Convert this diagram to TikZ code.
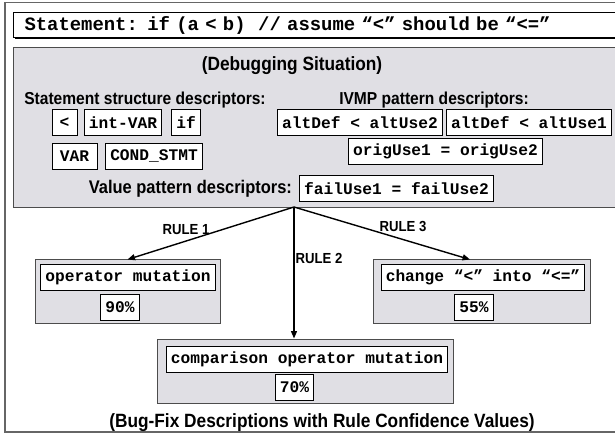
\documentclass[tikz,border=0pt]{standalone}
\usepackage{fontspec}
\setmainfont{Liberation Sans}[FakeStretch=0.9]
\newfontfamily\codefont{Liberation Mono}
\usetikzlibrary{arrows.meta,positioning,shadows}
\definecolor{panelgray}{RGB}{224,223,228}

\begin{document}
\begin{tikzpicture}[x=1pt,y=-1pt,
    desc/.style={draw, fill=white, line width=0.9pt, inner xsep=4.5pt, inner ysep=0pt, minimum height=26pt,
        font=\codefont\bfseries\fontsize{16.2}{18}\selectfont},
    panel/.style={draw=black!70, fill=panelgray, line width=1pt, inner sep=0pt,
        drop shadow={shadow xshift=1pt, shadow yshift=-1pt, fill=black, opacity=1}},
    headtext/.style={font=\bfseries\fontsize{19.2}{22}\selectfont, inner sep=0pt},
    desclabel/.style={font=\bfseries\fontsize{17.3}{20}\selectfont, inner sep=0pt},
    rulelabel/.style={font=\bfseries\fontsize{14.6}{16}\selectfont, inner sep=0pt},
    rulearrow/.style={-{Triangle[length=7.5pt,width=6pt]}, line width=1.4pt}]
    \useasboundingbox (0,0) rectangle (615,435);
    \clip (0,0) rectangle (615,435);

    % --- Rahmen ---
    \draw[black!60, line width=1.2pt] (5,2.5) rectangle (680,432);

    % --- Anweisung ---
    \node[draw, fill=white, line width=1pt, anchor=west, inner xsep=11pt, inner ysep=0pt,
        minimum height=25pt, text width=650pt, align=left,
        drop shadow={shadow xshift=1pt, shadow yshift=-1pt, fill=black, opacity=1},
        font=\codefont\bfseries\fontsize{18.9}{21}\selectfont]
        (stmt) at (13,25.5) {Statement: if (a < b)\ \ // assume “<” should be “<=”};

    % --- Debugging-Situation ---
    \node[panel, anchor=north west, minimum width=680pt, minimum height=160pt] (situation) at (13,47) {};
    \node[headtext] (sitlabel) at (292,66) {(Debugging Situation)};
    \node[desclabel] (ssdlabel) at (145,100) {Statement structure descriptors:};
    \node[desclabel] (ivmplabel) at (434,100) {IVMP pattern descriptors:};

    % Deskriptoren
    \node[desc, minimum width=25pt] (lt) at (64.5,122.5) {<};
    \node[desc] (intvar) at (123,122.5) {int-VAR};
    \node[desc] (kwif) at (186,122.5) {if};
    \node[desc, minimum width=45pt] (var) at (74.5,156) {VAR};
    \node[desc] (cond) at (154,156) {COND\_STMT};
    \node[desc] (alttwo) at (360,122.5) {altDef < altUse2};
    \node[desc] (altone) at (529,122.5) {altDef < altUse1};
    \node[desc] (orig) at (445.5,151) {origUse1 = origUse2};
    \node[desc] (fail) at (396.5,188.5) {failUse1 = failUse2};
    \node[desclabel, left=7pt of fail, font=\bfseries\fontsize{18.3}{20}\selectfont] (vpdlabel) {Value pattern descriptors:};

    % --- Bug-Fix-Beschreibungen ---
    \node[panel, minimum width=185pt, minimum height=63pt] (fixop) at (127.5,291.5) {};
    \node[desc] (opmut) at (128,277.5) {operator mutation};
    \node[desc] (conf90) at (120,307) {90\%};

    \node[panel, minimum width=217pt, minimum height=63pt] (fixchg) at (481.5,291.5) {};
    \node[desc] (chg) at (483,277.5) {change “<” into “<=”};
    \node[desc] (conf55) at (474,307) {55\%};

    \node[panel, minimum width=296pt, minimum height=64pt] (fixcmp) at (305,371) {};
    \node[desc] (cmpmut) at (307,359.5) {comparison operator mutation};
    \node[desc] (conf70) at (294.5,387.5) {70\%};

    % --- Regeln ---
    \coordinate (src) at (294,207);
    \draw[rulearrow] (src) -- (fixop.north);
    \draw[rulearrow] (src) -- (src |- fixcmp.north);
    \draw[rulearrow] (src) -- ([xshift=-11.5pt]fixchg.north);
    \node[rulelabel] (ruleone) at (186,230) {RULE 1};
    \node[rulelabel] (ruletwo) at (319,258) {RULE 2};
    \node[rulelabel] (rulethree) at (403,226) {RULE 3};

    \node[headtext] (caption) at (322,423) {(Bug-Fix Descriptions with Rule Confidence Values)};
\end{tikzpicture}
\end{document}
